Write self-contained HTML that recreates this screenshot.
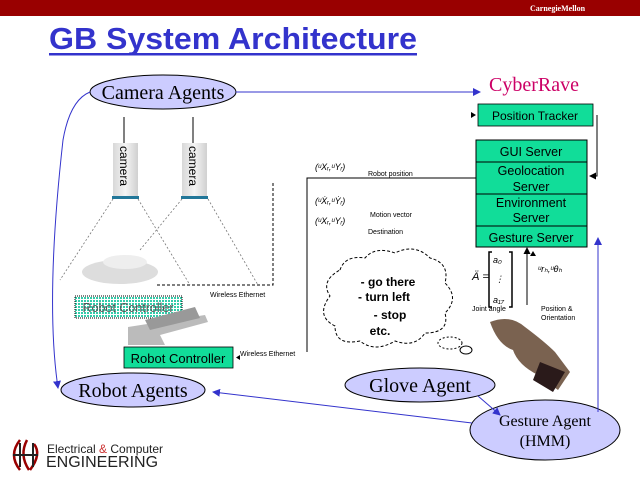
<!DOCTYPE html>
<html><head><meta charset="utf-8"><style>
html,body{margin:0;padding:0;background:#fff;}
svg{display:block;}
.s{font-family:"Liberation Sans",sans-serif;}
.r{font-family:"Liberation Serif",serif;}
</style></head><body>
<svg width="640" height="480" viewBox="0 0 640 480" xmlns="http://www.w3.org/2000/svg">
<defs>
<marker id="ab" markerWidth="8" markerHeight="8" refX="7" refY="4" orient="auto" markerUnits="userSpaceOnUse"><path d="M0,0 L8,4 L0,8z" fill="#3333cc"/></marker>
<marker id="ak" markerWidth="7" markerHeight="7" refX="6" refY="3.5" orient="auto" markerUnits="userSpaceOnUse"><path d="M0,0 L7,3.5 L0,7z" fill="#000"/></marker>
<pattern id="hat" width="3" height="3" patternUnits="userSpaceOnUse"><rect width="3" height="3" fill="#fff"/><rect width="2" height="2" fill="#33ccaa"/></pattern>
<linearGradient id="cam" x1="0" x2="1"><stop offset="0" stop-color="#d8d8d8"/><stop offset="0.5" stop-color="#f4f4f4"/><stop offset="1" stop-color="#d0d0d0"/></linearGradient>
</defs>
<rect x="0" y="0" width="640" height="16" fill="#990000"/>
<text x="530" y="11" font-size="8" font-weight="bold" fill="#fff" class="r">CarnegieMellon</text>
<text x="49" y="49" font-size="31" font-weight="bold" fill="#3333cc" class="s" textLength="368" lengthAdjust="spacingAndGlyphs">GB System Architecture</text>
<rect x="49" y="53" width="368" height="2.5" fill="#3333cc"/>

<ellipse cx="163" cy="92" rx="73" ry="17" fill="#ccccff" stroke="#000"/>
<text x="163" y="99" font-size="20" text-anchor="middle" class="r">Camera Agents</text>
<line x1="236" y1="92" x2="480" y2="92" stroke="#3333cc" marker-end="url(#ab)"/>
<text x="534" y="91" font-size="20" text-anchor="middle" fill="#cc0066" class="r">CyberRave</text>

<rect x="478" y="104" width="115" height="22" fill="#11dd99" stroke="#000" stroke-width="0.8"/>
<text x="535" y="120" font-size="12" text-anchor="middle" class="s">Position Tracker</text>
<path d="M471,112 l5,3 l-5,3z" fill="#000"/>
<polyline points="597,115 597,176 590,176" fill="none" stroke="#000" marker-end="url(#ak)"/>

<g stroke="#000" stroke-width="1" fill="#11dd99">
<rect x="476" y="140" width="111" height="22"/>
<rect x="476" y="162" width="111" height="32"/>
<rect x="476" y="194" width="111" height="32"/>
<rect x="476" y="226" width="111" height="21"/>
</g>
<g font-size="12.5" text-anchor="middle" class="s">
<text x="531" y="156">GUI Server</text>
<text x="531" y="175">Geolocation</text>
<text x="531" y="191">Server</text>
<text x="531" y="207">Environment</text>
<text x="531" y="222">Server</text>
<text x="531" y="242">Gesture Server</text>
</g>

<polyline points="476,178 307,178 307,352" fill="none" stroke="#000"/>
<g font-size="9" class="s" font-style="italic">
<text x="315" y="170">(ᵘXᵣ,ᵘYᵣ)</text>
<text x="315" y="204">(ᵘẊᵣ,ᵘẎᵣ)</text>
<text x="315" y="224">(ᵘXᵣ,ᵘYᵣ)</text>
</g>
<g font-size="7" class="s">
<text x="368" y="176">Robot position</text>
<text x="370" y="217">Motion vector</text>
<text x="368" y="234">Destination</text>
<text x="210" y="297">Wireless Ethernet</text>
<text x="240" y="356">Wireless Ethernet</text>
<text x="472" y="311">Joint angle</text>
<text x="541" y="311">Position &amp;</text>
<text x="541" y="320">Orientation</text>
</g>

<line x1="124" y1="117" x2="124" y2="143" stroke="#000"/>
<line x1="193" y1="117" x2="193" y2="143" stroke="#000"/>
<rect x="113" y="143" width="25" height="54" fill="url(#cam)"/>
<rect x="182" y="143" width="25" height="54" fill="url(#cam)"/>
<rect x="112" y="196" width="27" height="3" fill="#227799"/>
<rect x="181" y="196" width="27" height="3" fill="#227799"/>
<text transform="translate(120,146) rotate(90)" font-size="12" class="s">camera</text>
<text transform="translate(189,146) rotate(90)" font-size="12" class="s">camera</text>
<g stroke="#777" stroke-dasharray="2,2" fill="none" stroke-width="0.8">
<line x1="113" y1="199" x2="60" y2="280"/>
<line x1="138" y1="199" x2="190" y2="285"/>
<line x1="182" y1="199" x2="140" y2="250"/>
<line x1="208" y1="199" x2="258" y2="285"/>
</g>
<polyline points="157,285 273,285 273,183" fill="none" stroke="#000" stroke-dasharray="3,2"/>
<ellipse cx="120" cy="272" rx="38" ry="12" fill="#ddd"/>
<ellipse cx="125" cy="262" rx="22" ry="7" fill="#eee"/>
<rect x="75" y="296" width="107" height="22" fill="url(#hat)" stroke="#000" stroke-dasharray="1,1"/>
<text x="128" y="312" font-size="12.5" text-anchor="middle" class="s" fill="#555">Robot Controller</text>
<path d="M128,327 L205,315 L208,322 L160,335 L165,345 L128,345z" fill="#bbb"/>
<path d="M145,320 L195,307 L200,318 L150,330z" fill="#999"/>
<rect x="124" y="347" width="109" height="21" fill="#11dd99" stroke="#000" stroke-width="0.8"/>
<text x="178" y="363" font-size="13" text-anchor="middle" class="s">Robot Controller</text>
<path d="M240,355 l-4,2.5 l4,2.5z" fill="#000"/>

<path d="M340,270 q5,-15 25,-12 q10,-12 30,-5 q20,-10 35,5 q20,5 15,25 q15,15 0,30 q5,20 -20,20 q-10,15 -30,8 q-20,12 -35,0 q-25,5 -25,-15 q-20,-10 -5,-30 q-10,-15 10,-26z" fill="#fff" stroke="#000" stroke-dasharray="3,2"/>
<ellipse cx="450" cy="343" rx="12" ry="6" fill="#fff" stroke="#000" stroke-dasharray="2,2"/>
<ellipse cx="466" cy="350" rx="6" ry="4" fill="#fff" stroke="#000"/>
<g font-size="12" class="s" font-weight="bold" text-anchor="middle">
<text x="388" y="286">- go there</text>
<text x="384" y="301">- turn left</text>
<text x="390" y="319">- stop</text>
<text x="380" y="335">etc.</text>
</g>

<text x="472" y="280" font-size="11" class="s" font-style="italic">Ä =</text>
<path d="M492,252 h-3 v55 h3 M509,252 h3 v55 h-3" fill="none" stroke="#000" stroke-width="1.5"/>
<g font-size="9" class="s" font-style="italic"><text x="493" y="263">a₀</text><text x="495" y="282">⋮</text><text x="493" y="303">a₁₇</text></g>
<line x1="527" y1="305" x2="527" y2="248" stroke="#000" marker-end="url(#ak)"/>
<path d="M533,251 l-3,5 h6z" fill="#000"/>
<text x="538" y="272" font-size="9" class="s" font-style="italic">ᵘrₕ,ᵘθₕ</text>

<path d="M490,322 q20,-8 35,5 q20,15 30,25 l15,20 l-12,18 l-20,-15 q-20,-10 -25,-25 q-15,-5 -23,-28z" fill="#7a6250"/>
<path d="M540,362 l25,10 l-12,20 l-20,-12z" fill="#2a1a1a"/>

<ellipse cx="133" cy="390" rx="72" ry="17" fill="#ccccff" stroke="#000"/>
<text x="133" y="397" font-size="20" text-anchor="middle" class="r">Robot Agents</text>
<ellipse cx="420" cy="385" rx="75" ry="17" fill="#ccccff" stroke="#000"/>
<text x="420" y="392" font-size="20" text-anchor="middle" class="r">Glove Agent</text>
<ellipse cx="545" cy="430" rx="75" ry="30" fill="#ccccff" stroke="#000"/>
<text x="545" y="426" font-size="16" text-anchor="middle" class="r">Gesture Agent</text>
<text x="545" y="446" font-size="16" text-anchor="middle" class="r">(HMM)</text>

<path d="M90,92 Q70,100 63,140 Q45,300 58,388" fill="none" stroke="#3333cc" marker-end="url(#ab)"/>
<line x1="472" y1="423" x2="213" y2="392" stroke="#3333cc" marker-end="url(#ab)"/>
<line x1="478" y1="396" x2="500" y2="415" stroke="#3333cc" marker-end="url(#ab)"/>
<line x1="598" y1="412" x2="598" y2="238" stroke="#3333cc" marker-end="url(#ab)"/>

<path d="M20,440 q-12,15 0,30 M27,440 q-8,15 2,30 M34,444 q8,10 -4,26" fill="none" stroke="#990000" stroke-width="2.5"/>
<path d="M13,455 h25" stroke="#222" stroke-width="2"/>
<path d="M20,443 v24 M33,443 v24" stroke="#222" stroke-width="2"/>
<text x="47" y="453" font-size="12" class="s" fill="#222">Electrical <tspan fill="#cc3333">&amp;</tspan> Computer</text>
<text x="46" y="467" font-size="16" class="s" fill="#222">ENGINEERING</text>
</svg>
</body></html>
